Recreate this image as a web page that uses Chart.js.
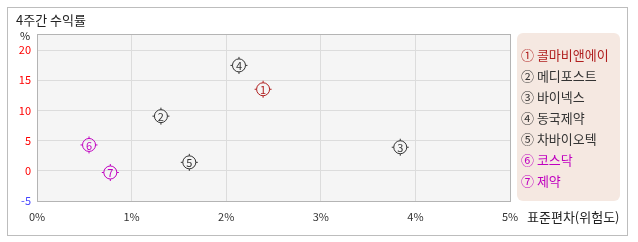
<!DOCTYPE html>
<html>
<head>
<meta charset="utf-8">
<script src="https://cdn.jsdelivr.net/npm/chart.js@4.4.1/dist/chart.umd.min.js"></script>
<style>
  html, body { margin: 0; padding: 0; background: #fff; }
  #wrap { width: 638px; height: 242px; }
</style>
</head>
<body>
<div id="wrap"><canvas id="riskChart" width="638" height="242"></canvas></div>
<script>
// 4주간 수익률 vs 표준편차

const names = ["콜마비앤에이", "메디포스트", "바이넥스", "동국제약", "차바이오텍", "코스닥", "제약"];
const marks = ["①", "②", "③", "④", "⑤", "⑥", "⑦"];
const riskValues = [2.39, 1.31, 3.84, 2.135, 1.61, 0.55, 0.775];      // 표준편차 (%)
const returnValues = [13.5, 9.05, 3.9, 17.45, 1.4, 4.28, -0.28];       // 4주 수익률 (%)
const markColors = ["#b01e1e", "#333333", "#333333", "#333333", "#333333", "#c000c0", "#c000c0"];
const xTicks = [0, 1, 2, 3, 4, 5];
const yTicks = [-5, 0, 5, 10, 15, 20];

const FONT = "'Noto Sans CJK KR', 'DejaVu Sans', sans-serif";

const decorPlugin = {
    id: "decor",
    beforeDraw(chart) {
        const { ctx, chartArea: a } = chart;
        ctx.save();
        ctx.fillStyle = "#ffffff";
        ctx.fillRect(0, 0, chart.width, chart.height);
        ctx.strokeStyle = "#bdbdbd";
        ctx.lineWidth = 1;
        ctx.strokeRect(7.5, 7.5, 620, 228);
        ctx.fillStyle = "#f5f5f5";
        ctx.fillRect(a.left, a.top, a.right - a.left, a.bottom - a.top);

        ctx.fillStyle = "#222";
        ctx.font = "13px " + FONT;
        ctx.textBaseline = "middle";
        ctx.fillText("4주간 수익률", 16, 20);
        ctx.font = "11px " + FONT;
        ctx.textAlign = "center";
        ctx.fillText("%", 25, 36);
        ctx.textAlign = "left";
        ctx.font = "13px " + FONT;
        ctx.fillText("표준편차(위험도)", 527, 217);

        // legend box
        ctx.fillStyle = "#f5e8e1";
        ctx.beginPath();
        ctx.roundRect(517, 33, 103, 168, 6);
        ctx.fill();
        ctx.font = "13px " + FONT;
        names.forEach((n, i) => {
            ctx.fillStyle = markColors[i];
            ctx.fillText(marks[i] + " " + n, 521, 55 + i * 21);
        });
        ctx.restore();
    },
    afterDatasetsDraw(chart) {
        const { ctx, chartArea: a } = chart;
        ctx.save();
        ctx.strokeStyle = "#b4b4b4";
        ctx.lineWidth = 1;
        ctx.strokeRect(Math.round(a.left) + 0.5, Math.round(a.top) + 0.5,
            Math.round(a.right - a.left), Math.round(a.bottom - a.top));

        const meta = chart.getDatasetMeta(0);
        ctx.textAlign = "center";
        ctx.textBaseline = "middle";
        ctx.font = "11px " + FONT;
        meta.data.forEach((pt, i) => {
            const x = pt.x, y = pt.y;
            ctx.strokeStyle = markColors[i];
            ctx.beginPath();
            ctx.moveTo(x, y - 6.5); ctx.lineTo(x, y - 8.5);
            ctx.moveTo(x, y + 6.5); ctx.lineTo(x, y + 8.5);
            ctx.moveTo(x - 6.5, y); ctx.lineTo(x - 8.5, y);
            ctx.moveTo(x + 6.5, y); ctx.lineTo(x + 8.5, y);
            ctx.stroke();
            ctx.fillStyle = markColors[i];
            ctx.fillText(String(i + 1), x, y + 0.5);
        });
        ctx.restore();
    }
};

const ctx = document.getElementById("riskChart").getContext("2d");
new Chart(ctx, {
    type: "scatter",
    data: {
        labels: names,
        datasets: [{
            data: riskValues.map((r, i) => ({ x: r, y: returnValues[i] })),
            pointRadius: 6.5,
            pointHoverRadius: 6.5,
            pointBorderWidth: 1,
            pointBorderColor: markColors,
            pointBackgroundColor: "rgba(0,0,0,0)"
        }]
    },
    options: {
        responsive: false,
        animation: false,
        layout: { padding: { left: 0, top: 34, right: 128, bottom: 0 } },
        plugins: { legend: { display: false }, tooltip: { enabled: false } },
        scales: {
            x: {
                type: "linear",
                min: 0,
                max: 5,
                afterBuildTicks: axis => { axis.ticks = xTicks.map(v => ({ value: v })); },
                afterFit: axis => { axis.height = 41; },
                border: { display: false },
                grid: { color: "#dcdcdc", drawTicks: false },
                ticks: {
                    padding: 9,
                    color: "#333",
                    font: { family: FONT, size: 11 },
                    callback: v => v + "%"
                }
            },
            y: {
                type: "linear",
                min: -5,
                max: 22.65,
                afterBuildTicks: axis => { axis.ticks = yTicks.map(v => ({ value: v })); },
                afterFit: axis => { axis.width = 37; },
                border: { display: false },
                grid: { color: "#dcdcdc", drawTicks: false },
                ticks: {
                    padding: 6,
                    font: { family: FONT, size: 11 },
                    color: c => (c.tick && c.tick.value < 0) ? "#4646ff" : "#ff0000"
                }
            }
        }
    },
    plugins: [decorPlugin]
});
</script>
</body>
</html>
